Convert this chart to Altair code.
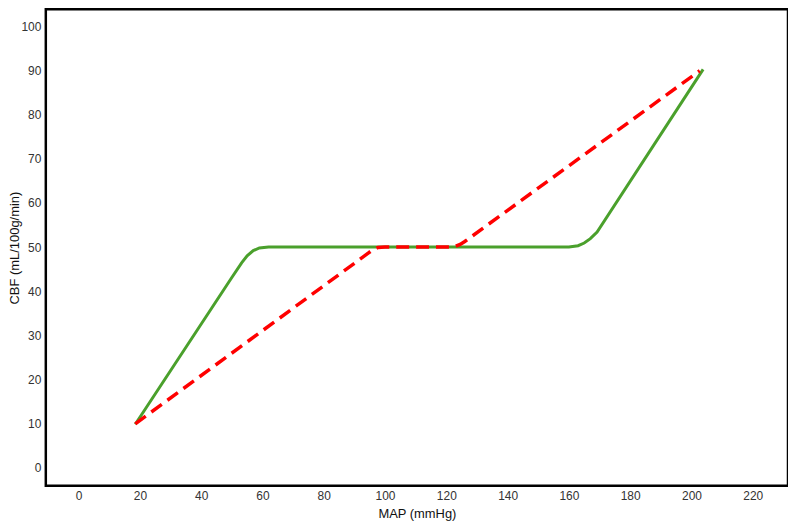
import altair as alt
import pandas as pd

# Green (solid) curve: MAP vs CBF
green_map = [18.5, 50.0, 53.2, 55.0, 57.0, 59.0, 62.0, 160.0, 163.0, 165.0, 167.0, 169.2, 203.8]
green_cbf = [9.9, 43.1, 46.4, 48.0, 49.2, 49.8, 50.0, 50.0, 50.3, 50.9, 51.9, 53.4, 90.2]

# Red (dashed) curve
red_map = [18.5, 94.5, 96.0, 97.7, 100.0, 121.5, 123.0, 124.5, 125.9, 202.7]
red_cbf = [10.0, 48.6, 49.4, 49.9, 50.0, 50.0, 50.2, 50.6, 51.2, 89.9]

x_ticks = [0, 20, 40, 60, 80, 100, 120, 140, 160, 180, 200, 220]
y_ticks = [0, 10, 20, 30, 40, 50, 60, 70, 80, 90, 100]

green = pd.DataFrame({"MAP": green_map, "CBF": green_cbf, "order": range(len(green_map))})
red = pd.DataFrame({"MAP": red_map, "CBF": red_cbf, "order": range(len(red_map))})

x_enc = alt.X("MAP:Q", title="MAP (mmHg)",
              scale=alt.Scale(domain=[-10.7, 231.5], nice=False, zero=False),
              axis=alt.Axis(values=x_ticks, grid=False, domain=False, ticks=False,
                            labelPadding=5, titleY=28, titleBaseline="middle"))
y_enc = alt.Y("CBF:Q", title="CBF (mL/100g/min)",
              scale=alt.Scale(domain=[-4.05, 103.8], nice=False, zero=False),
              axis=alt.Axis(values=y_ticks, grid=False, domain=False, ticks=False,
                            labelPadding=5, titleX=-31, titleY=239.5, titleAngle=270,
                            titleAlign="center", titleBaseline="middle"))

g = alt.Chart(green).mark_line(color="#4aa02c", strokeWidth=3).encode(
    x=x_enc, y=y_enc, order="order:Q")
r = alt.Chart(red).mark_line(color="#ff0000", strokeWidth=3.5, strokeDash=[13, 7]).encode(
    x=x_enc, y=y_enc, order="order:Q")

chart = alt.layer(g, r).properties(
    width=746, height=479,
    autosize=alt.AutoSizeParams(type="none"),
    padding={"left": 38, "top": 0, "right": 0, "bottom": 35},
).configure_view(
    stroke="black", strokeWidth=2.5
).configure_axis(
    labelFont="Liberation Sans", labelFontSize=12, labelColor="#333333",
    titleFont="Liberation Sans", titleFontSize=13, titleFontWeight="normal", titleColor="#111111"
)

chart.save("out.html", embed_options={"renderer": "svg", "actions": False})
